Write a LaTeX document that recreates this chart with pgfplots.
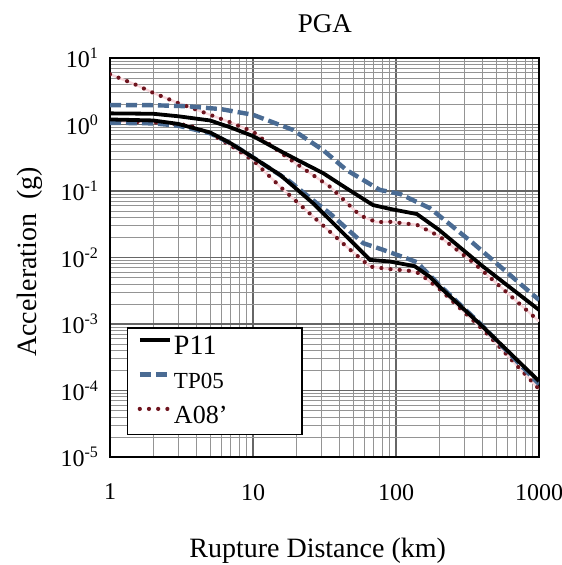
\documentclass[border=0pt]{standalone}
\usepackage{fontspec}
\setmainfont{Liberation Serif}
\usepackage{pgfplots}
\usepackage{pgfplotstable}
\pgfplotsset{compat=1.18}
\definecolor{tpblue}{RGB}{74,107,147}
\definecolor{adred}{RGB}{110,20,30}
\definecolor{adpink}{RGB}{248,215,220}

\pgfplotstableread{
x y
1 1.47
2 1.45
3 1.33
5 1.15
7 0.90
10 0.67
15.5 0.40
20 0.30
31 0.185
45 0.11
69 0.0615
90 0.054
140 0.045
200 0.026
400 0.0075
1000 0.00163
}\ptupper
\pgfplotstableread{
x y
1 1.19
2 1.15
3 1.02
5 0.76
7 0.52
10 0.32
15.5 0.174
26.4 0.065
45.2 0.0206
65.8 0.0092
91 0.0087
135 0.0074
173 0.0051
200 0.0037
400 0.00093
1000 0.000138
}\ptlower
\pgfplotstableread{
x y
1 1.96
2 1.95
3.5 1.88
6 1.70
10 1.40
19 0.83
31 0.41
45 0.207
77 0.104
107 0.090
173 0.055
345 0.0165
1000 0.0023
}\tpupper
\pgfplotstableread{
x y
1 1.06
2 1.04
3 0.96
5 0.74
7 0.52
10 0.32
18 0.14
26.4 0.072
34.5 0.046
45 0.0275
59 0.0164
81.5 0.013
119 0.0097
140 0.0085
200 0.0039
400 0.00095
1000 0.000125
}\tplower
\pgfplotstableread{
x y
1 5.7
1.5 4.0
2 3.0
3 2.1
4.6 1.5
7 1.07
10 0.78
15.5 0.38
19 0.28
34.5 0.116
56 0.043
73 0.034
90 0.0345
140 0.031
200 0.021
345 0.0085
1000 0.0011
}\adupper
\pgfplotstableread{
x y
1 1.12
2 1.08
3.5 0.98
5 0.74
7 0.48
10 0.29
15.5 0.116
26.4 0.041
45.2 0.0145
65.8 0.0073
90 0.0067
125 0.0063
145 0.0058
200 0.0034
419 0.00077
1000 0.000105
}\adlower

\begin{document}
\begin{tikzpicture}
\begin{axis}[
  name=ax,
  xmode=log, ymode=log,
  scale only axis, width=214.5pt, height=199.5pt,
  xmin=1, xmax=1000, ymin=1e-5, ymax=10,
  xtick={1,10,100,1000}, xticklabels={1,10,100,1000},
  ytick={1e-5,1e-4,1e-3,1e-2,1e-1,1,10},
  yticklabels={10\textsuperscript{-5},10\textsuperscript{-4},10\textsuperscript{-3},10\textsuperscript{-2},10\textsuperscript{-1},10\textsuperscript{0},10\textsuperscript{1}},
  minor xtick={2,3,4,5,6,7,8,9,20,30,40,50,60,70,80,90,200,300,400,500,600,700,800,900},
  minor ytick={2e-5,3e-5,4e-5,5e-5,6e-5,7e-5,8e-5,9e-5,2e-4,3e-4,4e-4,5e-4,6e-4,7e-4,8e-4,9e-4,2e-3,3e-3,4e-3,5e-3,6e-3,7e-3,8e-3,9e-3,2e-2,3e-2,4e-2,5e-2,6e-2,7e-2,8e-2,9e-2,0.2,0.3,0.4,0.5,0.6,0.7,0.8,0.9,2,3,4,5,6,7,8,9},
  grid=both,
  major grid style={draw=black!60, line width=0.55pt},
  minor grid style={draw=black!42, line width=0.45pt},
  major tick length=0pt, minor tick length=0pt,
  axis line style={line width=1.2pt},
  ticklabel style={font=\fontsize{12}{14}\selectfont},
  xticklabel style={yshift=-10pt},
  yticklabel style={xshift=-2pt},
  title={PGA},
  title style={at={(axis description cs:0.501,1.056)}, anchor=center, font=\fontsize{13.5}{16}\selectfont},
  xlabel={Rupture Distance (km)},
  xlabel style={at={(axis description cs:0.484,-0.235)}, anchor=center, font=\fontsize{14}{16}\selectfont},
  ylabel={Acceleration\ \ (g)},
  ylabel style={at={(axis description cs:-0.1865,0.489)}, anchor=center, font=\fontsize{14}{16}\selectfont},
  reverse legend,
  legend cell align=left,
  legend style={at={(0.0396,0.0551)}, anchor=south west, draw=black, line width=0.6pt,
    inner xsep=5pt, inner ysep=3pt, row sep=4.75pt, nodes={inner sep=1pt}},
  legend image code/.code={\draw[#1] (0pt,3.5pt) -- (15pt,3.5pt);},
]
% A08' (drawn first)
\addplot[adpink, line width=1.2pt, forget plot] table {\adupper};
\addplot[adpink, line width=1.2pt, forget plot] table {\adlower};
\addplot[adred, line width=2.1pt, dash pattern=on 0pt off 4.6pt, line cap=round, forget plot] table {\adlower};
\addplot[adred, line width=2.1pt, dash pattern=on 0pt off 4.6pt, line cap=round] table {\adupper};
\addlegendentry{\makebox[58pt][l]{\rule[-3pt]{0pt}{12pt}\fontsize{13}{13}\selectfont A08'}}
% TP05
\addplot[tpblue, line width=2.2pt, dash pattern=on 5.5pt off 2.5pt, forget plot] table {\tplower};
\addplot[tpblue, line width=2.2pt, dash pattern=on 5.5pt off 2.5pt] table {\tpupper};
\addlegendentry{\makebox[58pt][l]{\rule[-3pt]{0pt}{12pt}\fontsize{11.5}{12}\selectfont TP05}}
% P11
\addplot[black, line width=1.9pt, forget plot] table {\ptlower};
\addplot[black, line width=1.9pt] table {\ptupper};
\addlegendentry{\makebox[58pt][l]{\rule[-3pt]{0pt}{12pt}\fontsize{14}{14}\selectfont P11}}
\end{axis}
\pgfresetboundingbox
\path (ax.south west) ++(-55pt,-54pt) rectangle ++(280.5pt,282.5pt);
\end{tikzpicture}
\end{document}
